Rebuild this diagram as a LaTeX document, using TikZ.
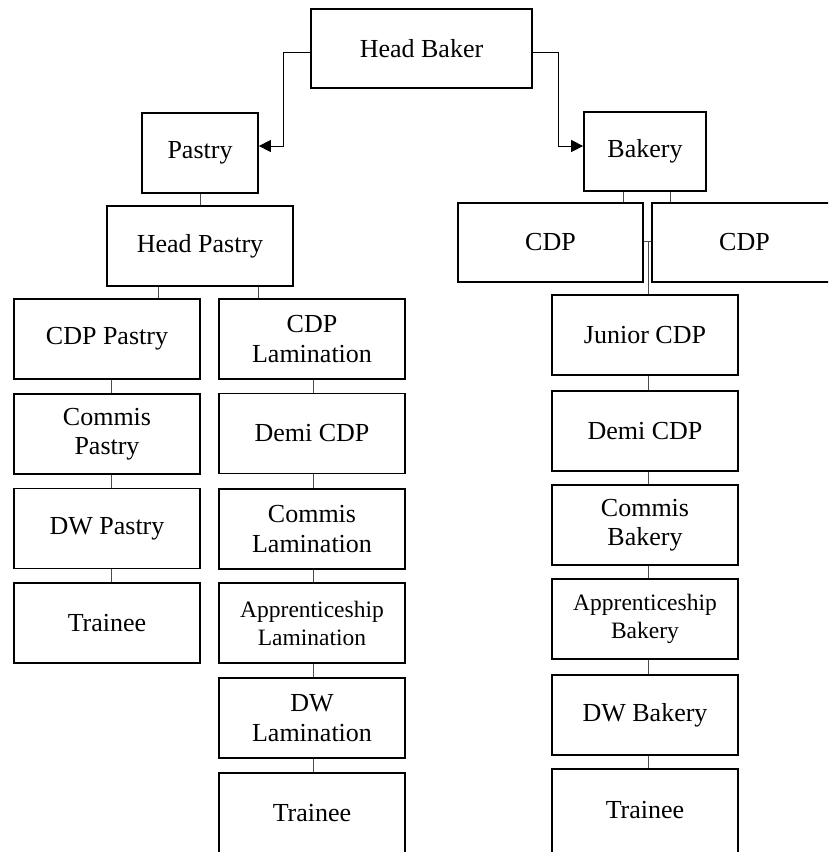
\documentclass[tikz,border=0pt]{standalone}
\usepackage{fontspec}
\setmainfont{Liberation Serif}
\usetikzlibrary{arrows.meta}
\tikzset{
  box/.style={draw=black, line width=1.7pt, rectangle, inner sep=0pt, align=center,
    minimum width=186pt, minimum height=80pt, font=\fontsize{26}{29.5}\selectfont},
  smallbox/.style={box, font=\fontsize{23.5}{28}\selectfont},
  link/.style={draw=black!70, line width=0.9pt},
  arr/.style={draw=black, line width=0.9pt, -{Triangle[length=12pt,width=12pt]}}
}
\begin{document}
\begin{tikzpicture}[x=1pt,y=-1pt]
\useasboundingbox (0,0) rectangle (828,852);
\clip (0,0) rectangle (828,852);
% top
\node[box, minimum width=221pt, minimum height=79pt] (hb) at (421.5,48.5) {Head Baker};
\node[box, minimum width=116pt] (pa) at (200,153) {Pastry};
\node[box, minimum width=122pt, minimum height=79pt] (ba) at (645,151.5) {Bakery};
\node[box] (hp) at (200,246) {Head Pastry};
\node[box, minimum width=185pt, minimum height=79pt] (c1) at (550.5,242.5) {CDP};
\node[box, minimum width=185pt, minimum height=79pt] (c2) at (744.5,242.5) {CDP};
% left column
\node[box] (l1) at (107,339) {CDP Pastry};
\node[box] (l2) at (107,434) {Commis\\Pastry};
\node[box] (l3) at (107,528.5) {DW Pastry};
\node[box] (l4) at (107,623) {Trainee};
% middle column
\node[box] (m1) at (312,339) {CDP\\Lamination};
\node[box] (m2) at (312,433.5) {Demi CDP};
\node[box] (m3) at (312,529) {Commis\\Lamination};
\node[smallbox] (m4) at (312,623) {Apprenticeship\\Lamination};
\node[box] (m5) at (312,718) {DW\\Lamination};
\node[box] (m6) at (312,813) {Trainee};
% right column
\node[box] (r1) at (645,335) {Junior CDP};
\node[box] (r2) at (645,431) {Demi CDP};
\node[box] (r3) at (645,525) {Commis\\Bakery};
\node[smallbox] (r4) at (645,619) {Apprenticeship\\Bakery};
\node[box] (r5) at (645,715) {DW Bakery};
\node[box, minimum height=90pt, text depth=8pt] (r6) at (645,814) {Trainee};
% arrows from head baker
\draw[arr] ([yshift=-3.5pt]hb.west) -- ++(-27,0) |- ([yshift=7pt]pa.east);
\draw[arr] ([yshift=-3.5pt]hb.east) -- ++(26,0) |- ([yshift=5.5pt]ba.west);
% pastry branch
\draw[link] (pa.south) -- (hp.north);
\draw[link] ([xshift=-42pt]hp.south) -- ([xshift=-42pt]hp.south |- l1.north);
\draw[link] ([xshift=58pt]hp.south) -- ([xshift=58pt]hp.south |- m1.north);
\foreach \a/\b in {l1/l2,l2/l3,l3/l4}
  \draw[link] ([xshift=4pt]\a.south) -- ([xshift=4pt]\b.north);
\foreach \a/\b in {m1/m2,m2/m3,m3/m4,m4/m5,m5/m6}
  \draw[link] ([xshift=1pt]\a.south) -- ([xshift=1pt]\b.north);
% bakery branch
\draw[link] ([xshift=-22pt]ba.south) -- ([xshift=-22pt]ba.south |- c1.north);
\draw[link] ([xshift=25pt]ba.south) -- ([xshift=25pt]ba.south |- c2.north);
\coordinate (j) at (648,241);
\draw[link] (c1.east |- j) -- (c2.west |- j);
\draw[link] (j) -- (j |- r1.north);
\foreach \a/\b in {r1/r2,r2/r3,r3/r4,r4/r5,r5/r6}
  \draw[link] ([xshift=3pt]\a.south) -- ([xshift=3pt]\b.north);
\end{tikzpicture}
\end{document}
